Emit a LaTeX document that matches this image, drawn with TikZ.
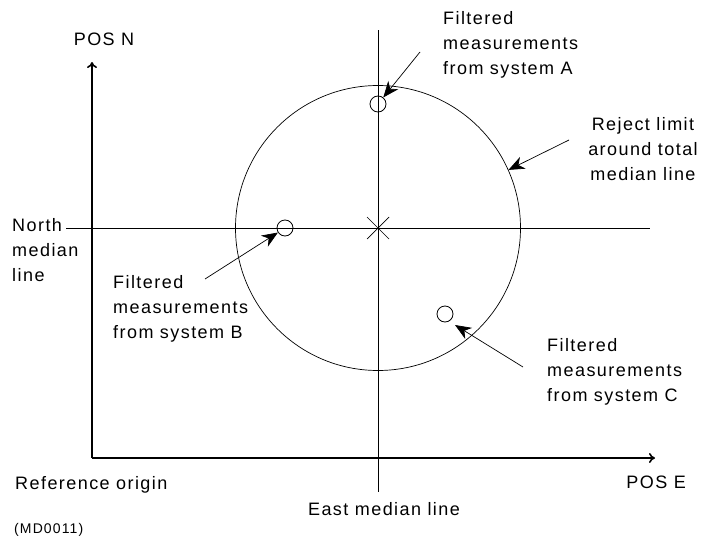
\documentclass[tikz,border=0pt]{standalone}
\usepackage{fontspec}
\setmainfont{Liberation Sans}[LetterSpace=8]
\usetikzlibrary{arrows.meta}
\tikzset{
  lbl/.style={font=\fontsize{18}{25}\selectfont, align=left, inner sep=0pt},
  pointer/.style={-{Stealth[length=16pt,width=13pt,inset=5pt]}, line width=0.7pt},
  axis/.style={line width=1.6pt, -{To[length=6pt,width=10pt]}},
  meas/.style={circle, draw, line width=0.8pt, minimum size=16pt, inner sep=0pt},
}
\begin{document}
\begin{tikzpicture}[x=1pt,y=-1pt]
  \useasboundingbox (0,0) rectangle (702,538);
  % axes
  \coordinate (origin) at (92,458);
  \draw[axis] (origin) -- (92,62) coordinate (posn);
  \draw[axis] (origin) -- (655,458) coordinate (pose);
  \node[lbl] (posnlbl) at (104,39) {POS N};
  \node[lbl, anchor=east] (poselbl) at (686,482) {POS E};
  \node[lbl, anchor=west] (reflbl) at (15,485) {Reference origin};
  \node[lbl, anchor=west, font=\fontsize{14}{16}\selectfont] (mdlbl) at (14,530) {(MD0011)};
  % median lines
  \node[lbl, anchor=west] (northlbl) at (12,250) {North\\median\\line};
  \coordinate (nstart) at (66,228);
  \draw[line width=0.7pt] (nstart) -- (650,228);
  \draw[line width=0.7pt] (378,30) -- (378,492);
  \node[lbl] (eastlbl) at (384,509) {East median line};
  % reject limit and total median
  \node[circle, draw, line width=0.7pt, minimum size=285pt, inner sep=0pt] (limit) at (378,228) {};
  \draw[line width=0.7pt] (367,217) -- (389,239) (367,239) -- (389,217);
  % filtered measurements
  \node[meas] (sysa) at (378,104) {};
  \node[meas] (sysb) at (285,228) {};
  \node[meas] (sysc) at (445,314) {};
  \node[lbl, anchor=north west] (alabel) at (443,11) {Filtered\\measurements\\from system A};
  \node[lbl, anchor=north west] (blabel) at (113,275) {Filtered\\measurements\\from system B};
  \node[lbl, anchor=north west] (clabel) at (547,338) {Filtered\\measurements\\from system C};
  \node[lbl, align=center] (rejlbl) at (643,149) {Reject limit\\around total\\median line};
  % pointers
  \coordinate (fromA) at (420,52);
  \coordinate (fromB) at (205,279);
  \coordinate (fromC) at (523,367);
  \coordinate (fromR) at (569,140);
  \coordinate (toC) at (455,325);
  \draw[pointer] (fromA) -- (sysa);
  \draw[pointer] (fromB) -- (sysb);
  \draw[pointer] (fromC) -- (toC);
  \draw[pointer] (fromR) -- (limit.24);
\end{tikzpicture}
\end{document}
